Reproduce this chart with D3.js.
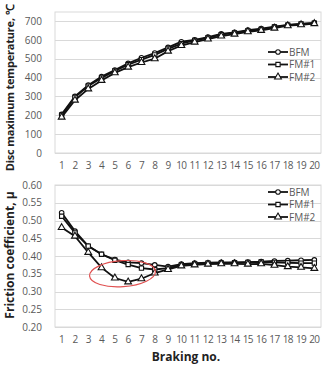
<!DOCTYPE html>
<html>
<head>
<meta charset="utf-8">
<script src="https://cdn.jsdelivr.net/npm/d3@7"></script>
<style>
  body { margin: 0; background: #fff; }
  svg { display: block; }
  text { font-family: "Open Sans", "Liberation Sans", sans-serif; }
</style>
</head>
<body>
<svg id="chart" width="323" height="365"></svg>
<script>
// braking number
var braking = d3.range(1, 21)

// disc max temperature
var tempBFM = [205,300,360,405,440,475,505,530,560,590,600,615,632,640,652,660,670,680,685,690]
var tempFM1 = [200,295,355,398,435,468,495,520,552,580,597,610,628,637,648,656,668,678,684,688]
var tempFM2 = [190,280,340,385,425,455,480,500,540,570,588,604,620,630,643,650,662,675,680,686]

// friction coefficient
var muBFM = [.522,.470,.428,.405,.390,.382,.380,.375,.370,.377,.380,.381,.382,.382,.383,.384,.386,.387,.388,.389]
var muFM1 = [.512,.465,.428,.405,.388,.376,.366,.362,.366,.375,.378,.380,.380,.381,.382,.383,.382,.381,.380,.380]
var muFM2 = [.480,.456,.410,.367,.338,.327,.336,.352,.362,.372,.375,.377,.378,.378,.377,.378,.374,.370,.368,.365]

var seriesNames = ["BFM", "FM#1", "FM#2"]
var markers = ["circle", "square", "triangle"]
var tempTicks = [0,100,200,300,400,500,600,700]
var muTicks = [0.20,0.25,0.30,0.35,0.40,0.45,0.50,0.55,0.60]

var svg = d3.select("#chart")

function symbolFor(m) {
  if (m == "circle") return d3.symbol().type(d3.symbolCircle).size(16)
  if (m == "square") return d3.symbol().type(d3.symbolSquare).size(18)
  return d3.symbol().type(d3.symbolTriangle).size(20)
}

function drawPanel(opt) {
  var x = d3.scaleBand().domain(braking).range([55, 321])
  var y = d3.scaleLinear().domain(opt.domain).range(opt.yRange)
  var g = svg.append("g")

  // plot frame
  g.append("rect").attr("x", 55).attr("y", opt.boxTop).attr("width", 266)
    .attr("height", opt.yRange[0] - opt.boxTop)
    .attr("fill", "none").attr("stroke", "#d9d9d9").attr("stroke-width", 1)

  // gridlines
  g.selectAll(".grid").data(opt.ticks).enter().append("line")
    .attr("x1", 55).attr("x2", 321)
    .attr("y1", d => Math.round(y(d)) + 0.5).attr("y2", d => Math.round(y(d)) + 0.5)
    .attr("stroke", "#d9d9d9").attr("stroke-width", 1)

  // y axis
  var yAxis = d3.axisLeft(y).tickValues(opt.ticks).tickFormat(opt.fmt).tickSize(0).tickPadding(13)
  var ya = g.append("g").attr("transform", "translate(55,0)").call(yAxis)
  ya.select(".domain").remove()
  ya.selectAll("text").attr("fill", "#595959").style("font-size", "10px")

  // x axis
  var xAxis = d3.axisBottom(x).tickSize(0).tickPadding(9)
  var xa = g.append("g").attr("transform", "translate(0," + opt.yRange[0] + ")").call(xAxis)
  xa.select(".domain").remove()
  xa.selectAll("text").attr("fill", "#595959").style("font-size", "10px").attr("letter-spacing", "-0.6")

  var cx = d => x(d) + x.bandwidth() / 2
  var line = d3.line().x((d, i) => cx(braking[i])).y(d => y(d))

  opt.series.forEach(function (vals, k) {
    g.append("path").datum(vals).attr("d", line)
      .attr("fill", "none").attr("stroke", "#111").attr("stroke-width", 1.8)
    g.selectAll(".m" + k).data(vals).enter().append("path")
      .attr("d", symbolFor(markers[k]))
      .attr("transform", (d, i) => "translate(" + cx(braking[i]) + "," + y(d) + ")")
      .attr("fill", "#fff").attr("stroke", "#111").attr("stroke-width", 1.1)
  })

  // legend
  seriesNames.forEach(function (name, k) {
    var ly = opt.legendY + k * 12.5
    g.append("line").attr("x1", 268).attr("x2", 288).attr("y1", ly).attr("y2", ly)
      .attr("stroke", "#111").attr("stroke-width", 1.8)
    g.append("path").attr("d", symbolFor(markers[k]))
      .attr("transform", "translate(278," + ly + ")")
      .attr("fill", "#fff").attr("stroke", "#111").attr("stroke-width", 1.1)
    g.append("text").attr("x", 289).attr("y", ly + 3.5).text(name)
      .attr("fill", "#595959").style("font-size", "10px")
  })

  // y title
  g.append("text")
    .attr("transform", "translate(14," + opt.titleY + ") rotate(-90)")
    .attr("text-anchor", "middle").attr("font-weight", "bold")
    .style("font-size", opt.titleSize).attr("letter-spacing", opt.titleSpacing).attr("fill", "#222")
    .text(opt.title)

  return { x: x, y: y }
}

drawPanel({
  domain: [0, 700], yRange: [153, 21], boxTop: 12, ticks: tempTicks,
  fmt: d3.format("d"), series: [tempBFM, tempFM1, tempFM2], legendY: 52,
  title: "Disc maximum temperature, \u2103", titleY: 88, titleSize: "11px", titleSpacing: "-0.2"
})

var p2 = drawPanel({
  domain: [0.20, 0.60], yRange: [327, 185], boxTop: 185, ticks: muTicks,
  fmt: d3.format(".2f"), series: [muBFM, muFM1, muFM2], legendY: 192,
  title: "Friction coefficient, \u03bc", titleY: 255, titleSize: "12px", titleSpacing: "0"
})

// red ellipse around the FM#2 dip
var ex = p2.x(5) + p2.x.bandwidth()
var ey = p2.y(0.35)
svg.append("ellipse").attr("cx", ex + 1).attr("cy", ey)
  .attr("rx", 33).attr("ry", 13)
  .attr("transform", "rotate(-4," + ex + "," + ey + ")")
  .attr("fill", "none").attr("stroke", "#e05050").attr("stroke-width", 1.2)

svg.append("text").attr("x", 186).attr("y", 361).attr("text-anchor", "middle")
  .attr("font-weight", "bold").style("font-size", "12px").attr("fill", "#222")
  .text("Braking no.")
</script>
</body>
</html>
